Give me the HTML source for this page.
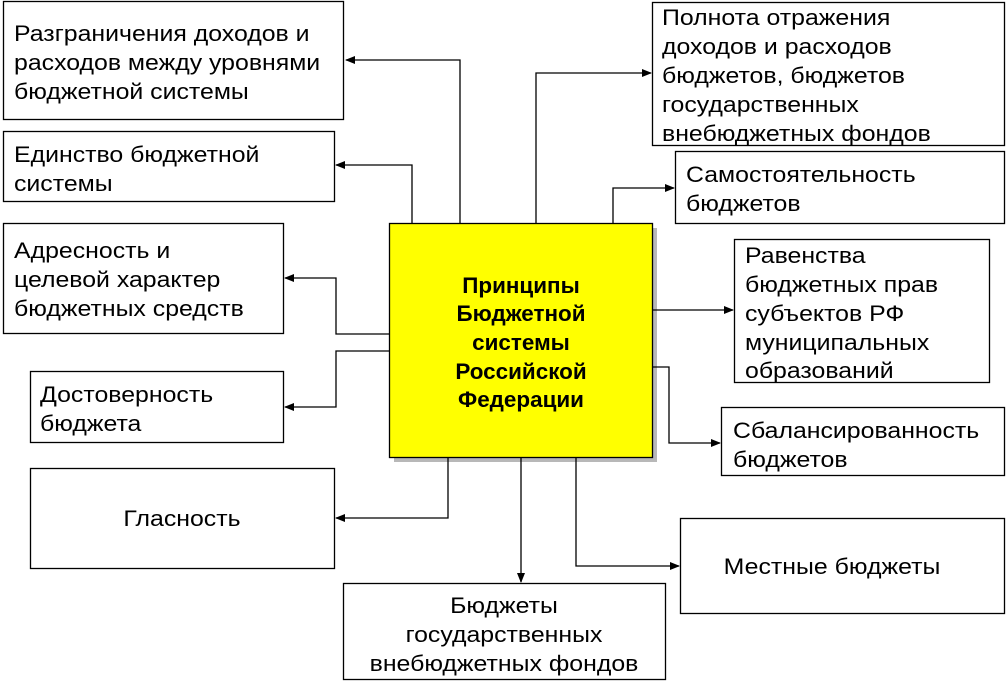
<!DOCTYPE html>
<html><head><meta charset="utf-8"><style>
html,body{margin:0;padding:0;background:#fff;}
svg{display:block;}
text{font-family:"Liberation Sans",Arial,sans-serif;font-size:22px;fill:#000;}
.b{font-weight:bold;}
</style></head><body>
<svg width="1008" height="682" viewBox="0 0 1008 682" xmlns="http://www.w3.org/2000/svg">
<defs><marker id="a" markerWidth="10" markerHeight="8" refX="9" refY="4" orient="auto" markerUnits="userSpaceOnUse"><path d="M0,0 L10,4 L0,8 z" fill="#000"/></marker></defs>
<g fill="#fff" stroke="#000" stroke-width="1.3">
<rect x="3.5" y="1.5" width="340" height="118"/>
<rect x="3.5" y="131.5" width="331" height="70"/>
<rect x="3.5" y="223.5" width="280" height="110"/>
<rect x="30.5" y="371.5" width="253" height="71"/>
<rect x="30.5" y="468.5" width="304" height="100"/>
<rect x="343.5" y="583.5" width="322" height="96"/>
<rect x="680.5" y="518.5" width="324" height="95"/>
<rect x="721.5" y="407.5" width="283" height="68"/>
<rect x="734.5" y="239.5" width="255" height="143"/>
<rect x="675.5" y="151.5" width="329" height="72"/>
<rect x="652.5" y="2.5" width="352" height="143"/>
</g>
<rect x="394" y="228" width="263" height="234" fill="#888" opacity="0.6"/>
<rect x="389.5" y="223.5" width="263" height="234" fill="#ffff00" stroke="#000" stroke-width="1.3"/>
<g fill="none" stroke="#000" stroke-width="1.3">
<polyline points="412,223 412,165 336,165" marker-end="url(#a)"/>
<polyline points="460,223 460,60 346,60" marker-end="url(#a)"/>
<polyline points="536,223 536,73 651,73" marker-end="url(#a)"/>
<polyline points="613,223 613,188 674,188" marker-end="url(#a)"/>
<polyline points="389,334 336,334 336,278 285,278" marker-end="url(#a)"/>
<polyline points="389,351 336,351 336,407 285,407" marker-end="url(#a)"/>
<polyline points="448,457 448,518 336,518" marker-end="url(#a)"/>
<polyline points="521,457 521,582" marker-end="url(#a)"/>
<polyline points="576,457 576,566 679,566" marker-end="url(#a)"/>
<polyline points="652,310 733,310" marker-end="url(#a)"/>
<polyline points="652,367 669,367 669,443 720,443" marker-end="url(#a)"/>
</g>
<g text-anchor="middle">
<text class="b" transform="translate(521,293) scale(1.02,1)">Принципы</text>
<text class="b" transform="translate(521,321) scale(1.02,1)">Бюджетной</text>
<text class="b" transform="translate(521,350) scale(1.02,1)">системы</text>
<text class="b" transform="translate(521,379) scale(1.02,1)">Российской</text>
<text class="b" transform="translate(521,407) scale(1.02,1)">Федерации</text>
<text transform="translate(182,526) scale(1.13,1)">Гласность</text>
<text transform="translate(504,613) scale(1.13,1)">Бюджеты</text>
<text transform="translate(504,642) scale(1.13,1)">государственных</text>
<text transform="translate(504,671) scale(1.13,1)">внебюджетных фондов</text>
<text transform="translate(832,574) scale(1.13,1)">Местные бюджеты</text>
</g>
<g>
<text transform="translate(14,41) scale(1.13,1)">Разграничения доходов и</text>
<text transform="translate(14,70) scale(1.13,1)">расходов между уровнями</text>
<text transform="translate(14,99) scale(1.13,1)">бюджетной системы</text>
<text transform="translate(14,162) scale(1.13,1)">Единство бюджетной</text>
<text transform="translate(14,191) scale(1.13,1)">системы</text>
<text transform="translate(14,258) scale(1.13,1)">Адресность и</text>
<text transform="translate(14,287) scale(1.13,1)">целевой характер</text>
<text transform="translate(14,316) scale(1.13,1)">бюджетных средств</text>
<text transform="translate(40,402) scale(1.13,1)">Достоверность</text>
<text transform="translate(40,431) scale(1.13,1)">бюджета</text>
<text transform="translate(733,438) scale(1.13,1)">Сбалансированность</text>
<text transform="translate(733,467) scale(1.13,1)">бюджетов</text>
<text transform="translate(745,263) scale(1.13,1)">Равенства</text>
<text transform="translate(745,292) scale(1.13,1)">бюджетных прав</text>
<text transform="translate(745,321) scale(1.13,1)">субъектов РФ</text>
<text transform="translate(745,350) scale(1.13,1)">муниципальных</text>
<text transform="translate(745,378) scale(1.13,1)">образований</text>
<text transform="translate(686,182) scale(1.13,1)">Самостоятельность</text>
<text transform="translate(686,211) scale(1.13,1)">бюджетов</text>
<text transform="translate(662,25) scale(1.13,1)">Полнота отражения</text>
<text transform="translate(662,54) scale(1.13,1)">доходов и расходов</text>
<text transform="translate(662,83) scale(1.13,1)">бюджетов, бюджетов</text>
<text transform="translate(662,112) scale(1.13,1)">государственных</text>
<text transform="translate(662,141) scale(1.13,1)">внебюджетных фондов</text>
</g>
</svg>
</body></html>
